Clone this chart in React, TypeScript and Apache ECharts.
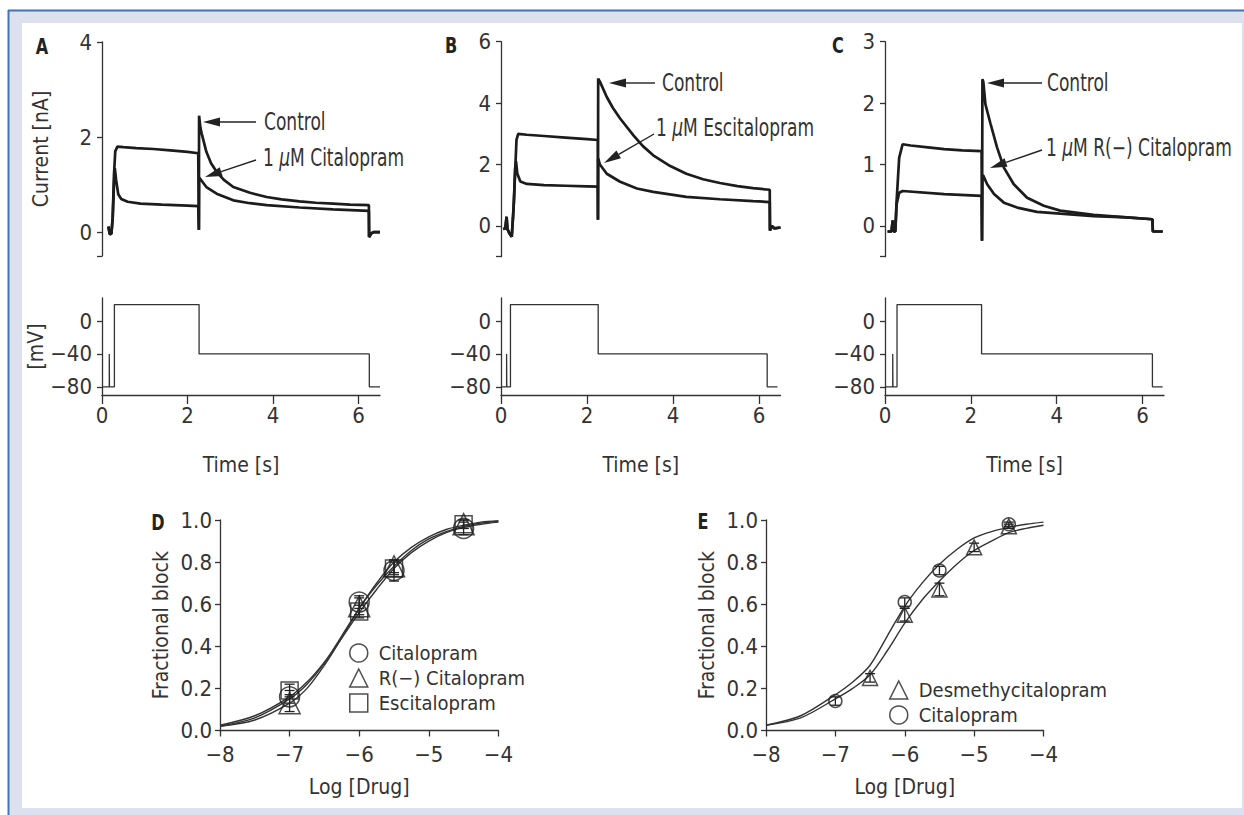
import React, { useEffect, useRef } from "react";
import * as echarts from "echarts";

const FONT = "'DejaVu Sans Condensed', 'Liberation Sans Narrow', Roboto, sans-serif";
const INK = "#333333";
const TRACE = "#1c1c1c";

// ---- axis ticks ----
const timeTicks = [0, 2, 4, 6];
const mvTicks = [-80, -40, 0];
const aCurrentTicks = [-0.5, 0, 2, 4];
const aCurrentLabels = [0, 2, 4];
const bCurrentTicks = [-1, 0, 2, 4, 6];
const bCurrentLabels = [0, 2, 4, 6];
const cCurrentTicks = [-0.5, 0, 1, 2, 3];
const cCurrentLabels = [0, 1, 2, 3];

// ---- current traces [time s, current nA] ----
const aControl = [
  [0.15, 0.12], [0.18, -0.04], [0.22, -0.03], [0.25, 0.3], [0.28, 1.2], [0.31, 1.7], [0.36, 1.8],
  [0.5, 1.79], [0.8, 1.77], [1.2, 1.75], [1.6, 1.72], [2.0, 1.69], [2.25, 1.66],
  [2.265, 0.05], [2.27, 2.45], [2.3, 2.2], [2.33, 2.08], [2.44, 1.69], [2.55, 1.45], [2.68, 1.27],
  [2.85, 1.1], [3.07, 0.95], [3.46, 0.83], [3.85, 0.74], [4.2, 0.69], [4.62, 0.65], [5.0, 0.62],
  [5.4, 0.6], [5.8, 0.58], [6.24, 0.57], [6.245, -0.1], [6.3, -0.02], [6.35, 0.0], [6.5, 0.0],
];
const aCitalopram = [
  [0.15, 0.12], [0.18, -0.04], [0.22, -0.03], [0.25, 0.3], [0.28, 1.0], [0.3, 1.35], [0.33, 1.1],
  [0.38, 0.8], [0.45, 0.7], [0.6, 0.64], [0.9, 0.6], [1.4, 0.58], [2.0, 0.56], [2.25, 0.55],
  [2.265, 0.05], [2.27, 1.15], [2.29, 1.13], [2.44, 0.95], [2.68, 0.81], [3.07, 0.67], [3.46, 0.61],
  [3.85, 0.57], [4.62, 0.52], [5.4, 0.48], [6.24, 0.45], [6.245, -0.1], [6.3, -0.02], [6.35, 0.0], [6.5, 0.0],
];
const bControl = [
  [0.05, -0.1], [0.1, -0.08], [0.13, 0.3], [0.15, -0.1], [0.2, -0.25], [0.25, -0.35], [0.28, 0.3],
  [0.3, 0.8], [0.33, 1.8], [0.36, 2.8], [0.4, 3.0], [0.6, 2.97], [1.0, 2.93], [1.5, 2.88], [2.0, 2.83],
  [2.25, 2.8], [2.255, 0.2], [2.26, 4.8], [2.3, 4.7], [2.46, 4.2], [2.6, 3.85], [2.77, 3.5], [3.08, 2.95],
  [3.3, 2.6], [3.54, 2.3], [3.9, 1.98], [4.31, 1.7], [4.7, 1.52], [5.09, 1.4], [5.5, 1.3], [5.86, 1.23],
  [6.25, 1.18], [6.255, -0.15], [6.3, 0.0], [6.36, -0.08], [6.5, -0.05],
];
const bEscitalopram = [
  [0.05, -0.1], [0.1, -0.08], [0.13, 0.3], [0.15, -0.1], [0.2, -0.25], [0.25, -0.35], [0.28, 0.3],
  [0.3, 0.8], [0.33, 1.9], [0.35, 2.1], [0.38, 1.7], [0.45, 1.45], [0.6, 1.37], [1.0, 1.33], [1.5, 1.31],
  [2.0, 1.29], [2.25, 1.28], [2.255, 0.2], [2.26, 2.2], [2.3, 2.0], [2.46, 1.7], [2.77, 1.44], [3.16, 1.22],
  [3.54, 1.11], [4.31, 0.95], [5.09, 0.87], [5.86, 0.81], [6.25, 0.78], [6.255, -0.15], [6.3, 0.0],
  [6.36, -0.08], [6.5, -0.05],
];
const cControl = [
  [0.06, -0.09], [0.15, -0.09], [0.18, 0.09], [0.2, -0.09], [0.24, -0.09], [0.27, 0.4], [0.33, 1.11],
  [0.41, 1.33], [0.6, 1.31], [1.0, 1.28], [1.38, 1.25], [1.8, 1.23], [2.25, 1.22], [2.26, -0.24],
  [2.27, 2.39], [2.29, 2.35], [2.34, 1.98], [2.46, 1.66], [2.61, 1.28], [2.77, 0.95], [3.0, 0.68],
  [3.31, 0.46], [3.7, 0.33], [4.08, 0.25], [4.86, 0.18], [5.63, 0.14], [6.23, 0.11], [6.24, -0.09], [6.47, -0.09],
];
const cRCitalopram = [
  [0.06, -0.09], [0.15, -0.09], [0.18, 0.09], [0.2, -0.09], [0.24, -0.09], [0.27, 0.35], [0.33, 0.54],
  [0.41, 0.57], [1.38, 0.52], [2.25, 0.49], [2.26, -0.24], [2.27, 0.82], [2.29, 0.82], [2.38, 0.68],
  [2.54, 0.52], [2.77, 0.38], [3.08, 0.3], [3.54, 0.23], [4.08, 0.2], [4.86, 0.16], [5.63, 0.14],
  [6.23, 0.11], [6.24, -0.09], [6.47, -0.09],
];

// ---- voltage protocols [time s, mV] ----
const aVoltage = [
  [0, -80], [0.17, -80], [0.17, -40], [0.175, -40], [0.175, -80], [0.29, -80], [0.29, 20],
  [2.27, 20], [2.27, -40], [6.25, -40], [6.25, -80], [6.5, -80],
];
const bVoltage = [
  [0, -80], [0.13, -80], [0.13, -40], [0.135, -40], [0.135, -80], [0.22, -80], [0.22, 20],
  [2.26, 20], [2.26, -40], [6.19, -40], [6.19, -80], [6.43, -80],
];
const cVoltage = [
  [0, -80], [0.18, -80], [0.18, -40], [0.185, -40], [0.185, -80], [0.28, -80], [0.28, 20],
  [2.25, 20], [2.25, -40], [6.23, -40], [6.23, -80], [6.47, -80],
];

// ---- concentration-response (log dose) ----
const curveDoses = [-8, -7.5, -7, -6.75, -6.5, -6.25, -6, -5.75, -5.5, -5.25, -5, -4.75, -4.5, -4.25, -4];
const dFitCitalopram = [0.02, 0.06, 0.15, 0.22, 0.32, 0.45, 0.58, 0.7, 0.8, 0.87, 0.92, 0.955, 0.975, 0.99, 0.995];
const dFitRCitalopram = [0.02, 0.05, 0.13, 0.2, 0.31, 0.44, 0.58, 0.69, 0.78, 0.855, 0.91, 0.945, 0.97, 0.985, 0.995];
const dFitEscitalopram = [0.025, 0.07, 0.16, 0.23, 0.325, 0.44, 0.56, 0.67, 0.77, 0.845, 0.9, 0.94, 0.965, 0.98, 0.99];
const eFitCitalopram = [0.025, 0.07, 0.17, 0.23, 0.31, 0.45, 0.59, 0.7, 0.79, 0.86, 0.915, 0.945, 0.965, 0.98, 0.99];
const eFitDesmethyl = [0.025, 0.06, 0.15, 0.2, 0.265, 0.38, 0.51, 0.62, 0.71, 0.79, 0.855, 0.9, 0.94, 0.96, 0.975];

const dDoses = [-7, -6, -5.5, -4.5];
const dCitalopram = [0.16, 0.61, 0.76, 0.96];
const dCitalopramErr = [0.03, 0.03, 0.05, 0.03];
const dRCitalopram = [0.13, 0.59, 0.78, 0.98];
const dRCitalopramErr = [0.04, 0.04, 0.03, 0.02];
const dEscitalopram = [0.19, 0.565, 0.77, 0.98];
const dEscitalopramErr = [0.03, 0.03, 0.03, 0.02];

const eDesmethylDoses = [-6.5, -6, -5.5, -5, -4.5];
const eDesmethyl = [0.25, 0.55, 0.67, 0.87, 0.97];
const eDesmethylErr = [0.02, 0.03, 0.03, 0.02, 0.01];
const eCitalopramDoses = [-7, -6, -5.5, -4.5];
const eCitalopram = [0.14, 0.61, 0.76, 0.98];
const eCitalopramErr = [0.02, 0.02, 0.02, 0.01];

const zip = (xs: number[], ys: number[]) => xs.map((x, i) => [x, ys[i]]);
const zip3 = (xs: number[], ys: number[], es: number[]) => xs.map((x, i) => [x, ys[i], es[i]]);
const minus = (v: number) => String(v).replace("-", "\u2212");

const lineStyleAxis = { color: INK, width: 1.3 };
const labelBase = { color: INK, fontFamily: FONT, fontSize: 22 };
const nameStyle = { color: INK, fontFamily: FONT, fontSize: 21 };

export default function App() {
  const ref = useRef<HTMLDivElement>(null);

  useEffect(() => {
    if (!ref.current) return;
    const chart = echarts.init(ref.current, undefined, { renderer: "svg" });

    const panels = [
      { left: 102, width: 278, curMin: -0.5, curMax: 4, curTicks: aCurrentTicks, curLabels: aCurrentLabels, top: 42, h: 214, ctrl: aControl, drug: aCitalopram, volt: aVoltage, yName: true },
      { left: 501, width: 279.5, curMin: -1, curMax: 6, curTicks: bCurrentTicks, curLabels: bCurrentLabels, top: 41.7, h: 215, ctrl: bControl, drug: bEscitalopram, volt: bVoltage, yName: false },
      { left: 885, width: 279, curMin: -0.5, curMax: 3, curTicks: cCurrentTicks, curLabels: cCurrentLabels, top: 41.7, h: 215, ctrl: cControl, drug: cRCitalopram, volt: cVoltage, yName: false },
    ];

    const grids: any[] = [];
    const xAxes: any[] = [];
    const yAxes: any[] = [];
    const series: any[] = [];

    panels.forEach((p) => {
      const gi = grids.length;
      grids.push({ left: p.left, top: p.top, width: p.width, height: p.h });
      xAxes.push({ type: "value", gridIndex: gi, min: 0, max: 6.5, show: false });
      yAxes.push({
        type: "value", gridIndex: gi, min: p.curMin, max: p.curMax,
        name: p.yName ? "Current [nA]" : "", nameLocation: "middle", nameGap: 51, nameTextStyle: nameStyle,
        axisLine: { show: true, onZero: false, lineStyle: lineStyleAxis },
        axisTick: { show: true, length: 5, customValues: p.curTicks, lineStyle: lineStyleAxis },
        axisLabel: { ...labelBase, margin: 10, customValues: p.curLabels, formatter: minus },
        splitLine: { show: false },
      });
      series.push(
        { type: "line", xAxisIndex: gi, yAxisIndex: gi, data: p.ctrl, showSymbol: false, symbol: "none", lineStyle: { color: TRACE, width: 2.7 }, z: 3 },
        { type: "line", xAxisIndex: gi, yAxisIndex: gi, data: p.drug, showSymbol: false, symbol: "none", lineStyle: { color: TRACE, width: 2.7 }, z: 3 },
      );
      const vi = grids.length;
      grids.push({ left: p.left, top: 298, width: p.width, height: 97 });
      xAxes.push({
        type: "value", gridIndex: vi, min: 0, max: 6.5,
        name: "Time [s]", nameLocation: "middle", nameGap: 59, nameTextStyle: nameStyle,
        axisLine: { show: true, onZero: false, lineStyle: lineStyleAxis },
        axisTick: { show: true, length: 9, customValues: timeTicks, lineStyle: lineStyleAxis },
        axisLabel: { ...labelBase, margin: 9, customValues: timeTicks, formatter: minus },
        splitLine: { show: false },
      });
      yAxes.push({
        type: "value", gridIndex: vi, min: -90, max: 28,
        name: p.yName ? "[mV]" : "", nameLocation: "middle", nameGap: 51, nameTextStyle: nameStyle,
        axisLine: { show: true, onZero: false, lineStyle: lineStyleAxis },
        axisTick: { show: true, length: 5, customValues: mvTicks, lineStyle: lineStyleAxis },
        axisLabel: { ...labelBase, margin: 10, customValues: mvTicks, formatter: minus },
        splitLine: { show: false },
      });
      series.push({ type: "line", xAxisIndex: vi, yAxisIndex: vi, data: p.volt, showSymbol: false, symbol: "none", lineStyle: { color: INK, width: 1.3 } });
    });

    const doseGrids = [
      { left: 220, width: 278.4 },
      { left: 766, width: 277.5 },
    ];
    const doseIdx: number[] = [];
    doseGrids.forEach((g) => {
      const gi = grids.length;
      doseIdx.push(gi);
      grids.push({ left: g.left, top: 520, width: g.width, height: 210.5 });
      xAxes.push({
        type: "value", gridIndex: gi, min: -8, max: -4, interval: 1,
        name: "Log [Drug]", nameLocation: "middle", nameGap: 46, nameTextStyle: nameStyle,
        axisLine: { show: true, onZero: false, lineStyle: lineStyleAxis },
        axisTick: { show: true, length: 6, lineStyle: lineStyleAxis },
        axisLabel: { ...labelBase, margin: 13, formatter: minus },
        splitLine: { show: false },
      });
      yAxes.push({
        type: "value", gridIndex: gi, min: 0, max: 1, interval: 0.2,
        name: "Fractional block", nameLocation: "middle", nameGap: 49, nameTextStyle: nameStyle,
        axisLine: { show: true, onZero: false, lineStyle: lineStyleAxis },
        axisTick: { show: true, length: 5, lineStyle: lineStyleAxis },
        axisLabel: { ...labelBase, margin: 8, formatter: (v: number) => v.toFixed(1) },
        splitLine: { show: false },
      });
    });
    const [dI, eI] = doseIdx;

    const fit = (gi: number, ys: number[]) => ({
      type: "line", xAxisIndex: gi, yAxisIndex: gi, data: zip(curveDoses, ys), smooth: 0.3,
      showSymbol: false, symbol: "none", lineStyle: { color: INK, width: 1.4 }, z: 2,
    });
    const openSym = { color: "rgba(0,0,0,0)", borderColor: "#222", borderWidth: 1.5 };
    const scatter = (gi: number, name: string, symbol: string, size: number, xs: number[], ys: number[]) => ({
      type: "scatter", name, xAxisIndex: gi, yAxisIndex: gi, data: zip(xs, ys), symbol, symbolSize: size,
      itemStyle: openSym, z: 4,
    });
    const errBars = (gi: number, xs: number[], ys: number[], es: number[]) => ({
      type: "custom", xAxisIndex: gi, yAxisIndex: gi, data: zip3(xs, ys, es), z: 5,
      renderItem: (_p: any, api: any) => {
        const x = api.value(0), y = api.value(1), e = api.value(2);
        const t = api.coord([x, y + e]);
        const b = api.coord([x, y - e]);
        const w = 5;
        const st = { stroke: "#222", lineWidth: 1.3 };
        return {
          type: "group",
          children: [
            { type: "line", shape: { x1: t[0], y1: t[1], x2: b[0], y2: b[1] }, style: st },
            { type: "line", shape: { x1: t[0] - w, y1: t[1], x2: t[0] + w, y2: t[1] }, style: st },
            { type: "line", shape: { x1: b[0] - w, y1: b[1], x2: b[0] + w, y2: b[1] }, style: st },
          ],
        };
      },
    });

    series.push(
      fit(dI, dFitCitalopram), fit(dI, dFitRCitalopram), fit(dI, dFitEscitalopram),
      scatter(dI, "Citalopram", "circle", 20, dDoses, dCitalopram),
      scatter(dI, "R(\u2212) Citalopram", "triangle", 21, dDoses, dRCitalopram),
      scatter(dI, "Escitalopram", "rect", 17, dDoses, dEscitalopram),
      errBars(dI, dDoses, dCitalopram, dCitalopramErr),
      errBars(dI, dDoses, dRCitalopram, dRCitalopramErr),
      errBars(dI, dDoses, dEscitalopram, dEscitalopramErr),
      fit(eI, eFitCitalopram), fit(eI, eFitDesmethyl),
      scatter(eI, "Desmethycitalopram", "triangle", 15, eDesmethylDoses, eDesmethyl),
      scatter(eI, "Citalopram", "circle", 13, eCitalopramDoses, eCitalopram),
      errBars(eI, eDesmethylDoses, eDesmethyl, eDesmethylErr),
      errBars(eI, eCitalopramDoses, eCitalopram, eCitalopramErr),
    );

    const legendBase = {
      orient: "vertical", itemWidth: 18, itemHeight: 18, itemGap: 3, selectedMode: false,
      textStyle: { color: INK, fontFamily: FONT, fontSize: 20, lineHeight: 22, padding: [0, 0, 0, 6] },
      itemStyle: { color: "rgba(0,0,0,0)", borderColor: "#222", borderWidth: 1.5 },
      padding: 0,
    };

    const arrow = (x1: number, y1: number, x2: number, y2: number) => {
      const dx = x2 - x1, dy = y2 - y1;
      const L = Math.hypot(dx, dy);
      const ux = dx / L, uy = dy / L;
      const hl = 17, hw = 4.5;
      const bx = x2 - ux * hl, by = y2 - uy * hl;
      return [
        { type: "line", z: 50, shape: { x1, y1, x2: bx, y2: by }, style: { stroke: "#222", lineWidth: 1.4 } },
        { type: "polygon", z: 50, shape: { points: [[x2, y2], [bx - uy * hw, by + ux * hw], [bx + uy * hw, by - ux * hw]] }, style: { fill: "#222" } },
      ];
    };
    const note = (x: number, y: number, parts: string) => ({
      type: "text", z: 50, x, y, scaleX: 0.79,
      style: {
        text: parts, fill: INK, fontFamily: FONT, fontSize: 24, verticalAlign: "middle", align: "left",
        rich: {
          n: { fontFamily: FONT, fontSize: 24, fill: INK },
          m: { fontFamily: FONT, fontSize: 24, fontStyle: "italic", fill: INK },
        },
      },
    });
    const letter = (x: number, y: number, t: string) => ({
      type: "text", z: 50, x, y, scaleX: 0.85,
      style: { text: t, fill: "#222", fontFamily: FONT, fontSize: 21, fontWeight: "bold", align: "center", verticalAlign: "middle" },
    });

    const option: any = {
      animation: false,
      backgroundColor: "#ffffff",
      grid: grids,
      xAxis: xAxes,
      yAxis: yAxes,
      series,
      legend: [
        { ...legendBase, left: 349, top: 642, data: [{ name: "Citalopram", icon: "circle" }, { name: "R(\u2212) Citalopram", icon: "triangle" }, { name: "Escitalopram", icon: "rect" }] },
        { ...legendBase, left: 889, top: 679, data: [{ name: "Desmethycitalopram", icon: "triangle" }, { name: "Citalopram", icon: "circle" }] },
      ],
      graphic: [
        { type: "rect", z: -20, silent: true, shape: { x: 9, y: 11, width: 1235, height: 804 }, style: { fill: "#dde1ef" } },
        { type: "rect", z: -19, silent: true, shape: { x: 22, y: 23, width: 1220, height: 785 }, style: { fill: "#ffffff" } },
        { type: "line", z: -18, silent: true, shape: { x1: 8, y1: 10.5, x2: 1244, y2: 10.5 }, style: { stroke: "#4472b4", lineWidth: 2 } },
        { type: "line", z: -18, silent: true, shape: { x1: 8.5, y1: 10, x2: 8.5, y2: 815 }, style: { stroke: "#4472b4", lineWidth: 2 } },
        letter(42, 47, "A"), letter(451, 46, "B"), letter(838, 46, "C"), letter(158, 523, "D"), letter(703, 522, "E"),
        note(264, 122, "{n|Control}"),
        note(263, 158, "{n|1 }{m|\u03bc}{n|M Citalopram}"),
        note(662, 83, "{n|Control}"),
        note(656, 128, "{n|1 }{m|\u03bc}{n|M Escitalopram}"),
        note(1047, 83, "{n|Control}"),
        note(1046, 148, "{n|1 }{m|\u03bc}{n|M R(\u2212) Citalopram}"),
        ...arrow(256, 122, 203, 122),
        ...arrow(256, 160, 205, 177),
        ...arrow(655, 83, 609, 83),
        ...arrow(654, 134, 604, 163),
        ...arrow(1042, 83, 987, 83),
        ...arrow(1042, 150, 990, 168),
      ],
    };
    chart.setOption(option);
    return () => chart.dispose();
  }, []);

  return <div ref={ref} style={{ position: "fixed", left: 0, top: 0, width: 1244, height: 815 }} />;
}
